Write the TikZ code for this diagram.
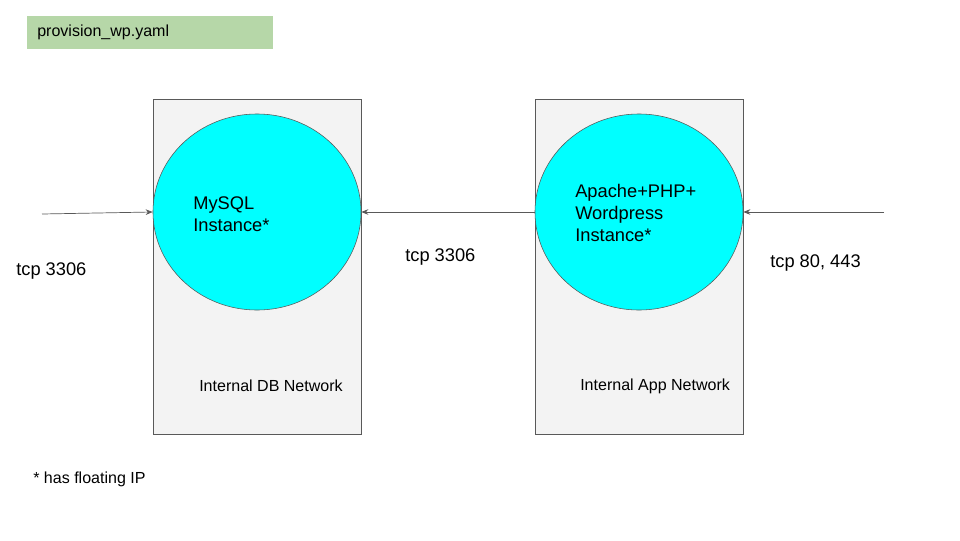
\documentclass[tikz,border=0pt]{standalone}
\usepackage{fontspec}
\setmainfont{Liberation Sans}
\usepackage{xcolor}
\usetikzlibrary{shapes.geometric,arrows.meta}
\definecolor{netgray}{HTML}{F3F3F3}
\definecolor{linegray}{HTML}{595959}
\definecolor{filegreen}{HTML}{B6D7A8}
\definecolor{hostcyan}{HTML}{00FFFF}
\tikzset{
  netbox/.style={draw=linegray, fill=netgray, minimum width=5.2cm, minimum height=8.375cm, inner sep=0pt},
  hostnode/.style={ellipse, draw=linegray, fill=hostcyan, minimum width=5.2cm, minimum height=4.9cm, inner sep=0pt},
  hosttext/.style={anchor=west, align=left, inner xsep=0pt, font=\fontsize{13}{15.6}\selectfont},
  smalltext/.style={anchor=west, inner xsep=0pt, font=\fontsize{11.4}{13.5}\selectfont},
  bigtext/.style={anchor=west, inner xsep=0pt, font=\fontsize{13}{15.6}\selectfont},
  flow/.style={linegray, line width=0.5pt, -{Stealth[length=5pt,width=4pt]}}
}

\begin{document}
\begin{tikzpicture}[x=0.025cm, y=-0.025cm]
\useasboundingbox (0,0) rectangle (960,540);
% file name
\node[fill=filegreen, anchor=north west, minimum width=6.15cm, minimum height=0.825cm,
      inner xsep=0.25cm, text width=5.65cm, align=left, font=\fontsize{11.4}{13.5}\selectfont] (yaml) at (27,16) {provision\_wp.yaml};
% networks
\node[netbox] (dbnet) at (257,266.5) {};
\node[netbox] (appnet) at (639,266.5) {};
\node[smalltext] (dblabel) at (199,386) {Internal DB Network};
\node[smalltext] (applabel) at (580,386) {Internal App Network};
% instances
\node[hostnode] (mysql) at (257,212) {};
\node[hostnode] (app) at (639,212) {};
\node[hosttext] (mysqltext) at (193,214) {MySQL\\Instance*};
\node[hosttext] (apptext) at (575,213) {Apache+PHP+\\Wordpress\\Instance*};
% traffic
\coordinate (dbin) at (42,214);
\coordinate (webin) at (884,212);
\draw[flow] (dbin) -- (mysql.west);
\draw[flow] (app.west) -- (mysql.east);
\draw[flow] (webin) -- (app.east);
\node[bigtext] (tcpleft) at (16,271) {tcp 3306};
\node[bigtext] (tcpmid) at (405,257) {tcp 3306};
\node[bigtext] (tcpright) at (770,263) {tcp 80, 443};
% note
\node[smalltext] (note) at (33,479) {* has floating IP};
\end{tikzpicture}
\end{document}
